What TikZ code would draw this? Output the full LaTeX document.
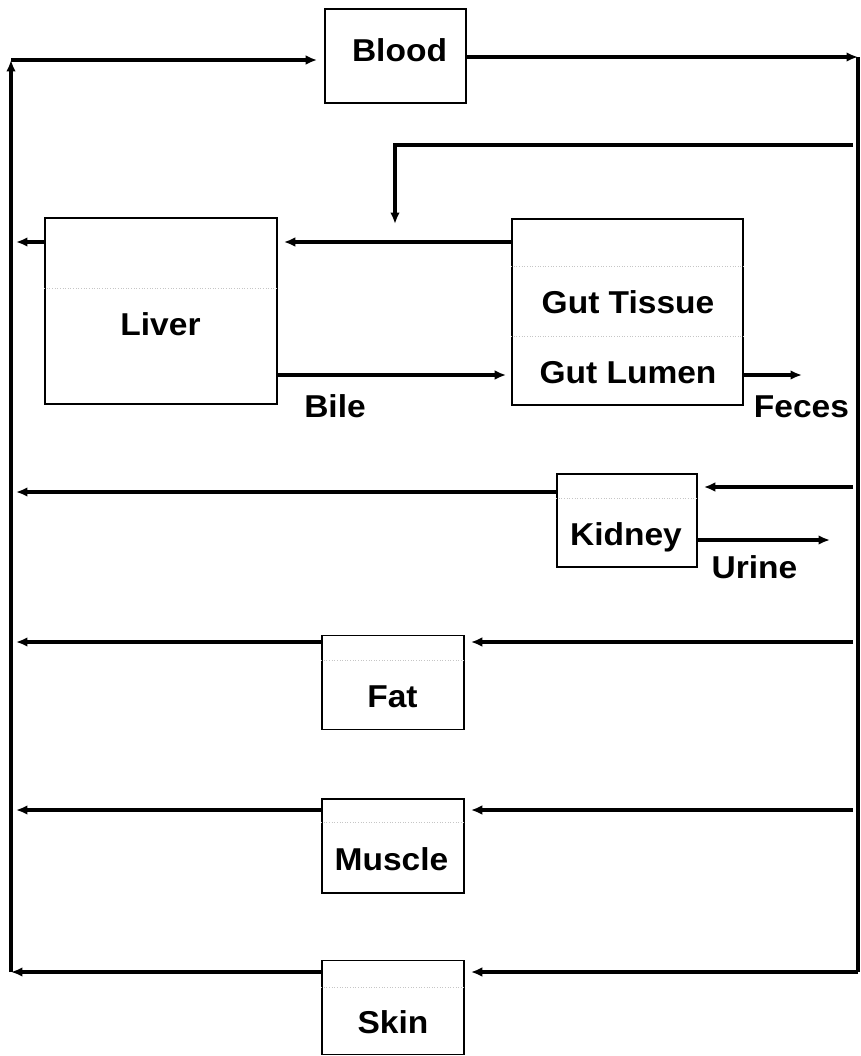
\documentclass[tikz,border=0pt]{standalone}
\usepackage{fontspec}
\setmainfont{Liberation Sans}[FakeStretch=1.06]
\usetikzlibrary{arrows.meta}
\tikzset{
  organ/.style={draw, line width=1pt, inner sep=0pt},
  flow/.style={line width=2.1pt},
  sub/.style={gray!45, densely dotted, line width=0.5pt},
  lab/.style={anchor=base, inner sep=0pt, font=\fontsize{18}{20}\selectfont\bfseries}
}
\begin{document}
\begin{tikzpicture}[x=0.02cm, y=-0.02cm, >={Latex[length=6.5pt,width=5.5pt]}]
  \useasboundingbox (0,0) rectangle (860,1056);
  % corners of the circulation loop
  \coordinate (tl) at (11,60);
  \coordinate (bl) at (11,972);
  \coordinate (tr) at (858,57);
  \coordinate (br) at (858,972);
  \coordinate (lft) at (16,0);
  \coordinate (rgt) at (853,0);
  % compartments
  \node[organ, minimum width=2.82cm, minimum height=1.88cm] (blood) at (395.5,56) {};
  \node[organ, minimum width=4.64cm, minimum height=3.72cm] (liver) at (161,311) {};
  \node[organ, minimum width=4.62cm, minimum height=3.72cm] (gut) at (627.5,312) {};
  \node[organ, minimum width=2.8cm, minimum height=1.86cm] (kidney) at (627,520.5) {};
  \foreach \n/\y in {fat/682.5, muscle/846, skin/1007.5}
    \node[organ, minimum width=2.84cm, minimum height=1.88cm] (\n) at (393,\y) {};
  \foreach \n/\y in {liver/288, gut/266, gut/336, kidney/498, fat/660, muscle/822, skin/987}
    \draw[sub] (\n.west |- 0,\y) -- (\n.east |- 0,\y);
  % labels
  \node[lab] (bloodlab) at (399.5,61) {Blood};
  \node[lab] (liverlab) at (160.5,335) {Liver};
  \node[lab] (tissuelab) at (628,313) {Gut Tissue};
  \node[lab] (lumenlab) at (628,383) {Gut Lumen};
  \node[lab] (kidneylab) at (626,545) {Kidney};
  \node[lab] (fatlab) at (392.5,707) {Fat};
  \node[lab] (musclelab) at (391.5,870) {Muscle};
  \node[lab] (skinlab) at (393,1033) {Skin};
  \node[lab] (bilelab) at (335,417) {Bile};
  \node[lab] (feceslab) at (801.5,417) {Feces};
  \node[lab] (urinelab) at (754.5,578) {Urine};
  % blood out and back
  \draw[flow, ->] (blood.east |- tr) -- (tr);
  \draw[flow] (tr) -- (br);
  \draw[flow, ->, shorten >=0.12cm] (br) -- (skin.east |- br);
  \draw[flow, ->] (skin.west |- bl) -- (bl);
  \draw[flow, ->] (bl) -- (tl);
  \draw[flow, ->, shorten >=0.14cm] (tl) -- (blood.west |- tl);
  % gut and liver
  \coordinate (gutin) at (853,145);
  \coordinate (portal) at (395,224);
  \coordinate (pv) at (0,242);
  \coordinate (bile) at (0,375);
  \coordinate (feces) at (802,375);
  \draw[flow, ->] (gutin) -| (portal);
  \draw[flow, ->, shorten >=0.12cm] (gut.west |- pv) -- (liver.east |- pv);
  \draw[flow, ->] (liver.west |- pv) -- (lft |- pv);
  \draw[flow, ->, shorten >=0.1cm] (liver.east |- bile) -- (gut.west |- bile);
  \draw[flow, ->] (gut.east |- bile) -- (feces);
  % kidney
  \coordinate (urine) at (830,540);
  \draw[flow, ->, shorten >=0.12cm] (rgt |- 0,487) -- (kidney.east |- 0,487);
  \draw[flow, ->] (kidney.west |- 0,492) -- (lft |- 0,492);
  \draw[flow, ->] (kidney.east |- urine) -- (urine);
  % fat and muscle
  \foreach \n/\y in {fat/642, muscle/810} {
    \draw[flow, ->, shorten >=0.12cm] (rgt |- 0,\y) -- (\n.east |- 0,\y);
    \draw[flow, ->] (\n.west |- 0,\y) -- (lft |- 0,\y);
  }
\end{tikzpicture}
\end{document}
